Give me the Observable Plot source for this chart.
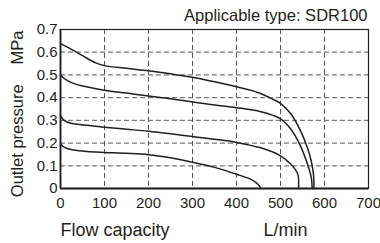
<!DOCTYPE html>
<html>
<head>
<meta charset="utf-8">
<script src="https://cdn.jsdelivr.net/npm/d3@7"></script>
<script src="https://cdn.jsdelivr.net/npm/@observablehq/plot@0.6"></script>
<style>
  html, body { margin: 0; padding: 0; background: #fff; }
  g[aria-label="chart-title"] text { letter-spacing: 1.05px; }
</style>
</head>
<body>
<div id="chart"></div>
<script>
// Axis ticks
const xTicks = [0, 100, 200, 300, 400, 500, 600, 700];
const yTicks = [0, 0.1, 0.2, 0.3, 0.4, 0.5, 0.6, 0.7];
const yTickLabels = ["0", "0.1", "0.2", "0.3", "0.4", "0.5", "0.6", "0.7"];

// Texts
const titleText = "Applicable type: SDR100";
const yLabelText = "Outlet pressure";
const yUnitText = "MPa";
const xLabelText = "Flow capacity";
const xUnitText = "L/min";

// Curve A (set 0.64 MPa)
const curveA_x = [0, 20, 50, 80, 100, 150, 200, 250, 300, 350, 400, 432, 455, 477, 500, 523, 545, 561, 570, 575, 576];
const curveA_y = [0.638, 0.618, 0.585, 0.553, 0.541, 0.529, 0.518, 0.505, 0.49, 0.47, 0.448, 0.433, 0.418, 0.398, 0.375, 0.33, 0.256, 0.18, 0.12, 0.06, 0];

// Curve B (set 0.5 MPa)
const curveB_x = [0, 10, 25, 50, 100, 150, 200, 250, 300, 350, 400, 455, 500, 523, 545, 561, 570, 572];
const curveB_y = [0.5, 0.482, 0.466, 0.451, 0.433, 0.42, 0.407, 0.395, 0.381, 0.368, 0.356, 0.338, 0.307, 0.263, 0.189, 0.109, 0.048, 0];

// Curve C (set 0.32 MPa)
const curveC_x = [0, 5, 15, 30, 60, 100, 150, 200, 250, 300, 350, 400, 455, 500, 523, 533, 539, 541, 541];
const curveC_y = [0.322, 0.306, 0.293, 0.285, 0.278, 0.27, 0.261, 0.252, 0.241, 0.229, 0.217, 0.203, 0.179, 0.144, 0.108, 0.085, 0.065, 0.045, 0];

// Curve D (set 0.2 MPa)
const curveD_x = [0, 5, 15, 30, 60, 100, 150, 200, 250, 300, 350, 400, 432, 445, 452, 455];
const curveD_y = [0.198, 0.186, 0.176, 0.169, 0.163, 0.159, 0.155, 0.149, 0.135, 0.116, 0.093, 0.063, 0.041, 0.025, 0.012, 0];

const toRows = (xs, ys) => xs.map((x, i) => ({x, y: ys[i]}));
const curves = [
  toRows(curveA_x, curveA_y),
  toRows(curveB_x, curveB_y),
  toRows(curveC_x, curveC_y),
  toRows(curveD_x, curveD_y)
];

const font = "'Liberation Sans', Arial, Helvetica, sans-serif";

const chart = Plot.plot({
  width: 380,
  height: 243,
  marginLeft: 60,
  marginRight: 12,
  marginTop: 29,
  marginBottom: 55,
  style: {fontFamily: font, color: "#231f20", background: "#fff", overflow: "visible"},
  x: {domain: [0, 700], ticks: xTicks},
  y: {domain: [0, 0.7], ticks: yTicks},
  marks: [
    Plot.gridY(yTicks.slice(1, -1), {stroke: "#7a7a7a", strokeOpacity: 1, strokeWidth: 1.3, strokeDasharray: "5,3"}),
    Plot.gridX(xTicks.slice(1, -1), {stroke: "#555", strokeOpacity: 1, strokeWidth: 1, strokeDasharray: "5,3"}),
    Plot.frame({stroke: "#231f20", strokeWidth: 1.2}),
    Plot.ruleX([0], {stroke: "#231f20", strokeWidth: 1.8}),
    Plot.ruleY([0], {stroke: "#231f20", strokeWidth: 1.8}),
    ...curves.map(rows => Plot.line(rows, {x: "x", y: "y", curve: "catmull-rom", stroke: "#231f20", strokeWidth: 1.5})),
    Plot.axisX({ticks: xTicks, tickSize: 0, tickPadding: 9, fontSize: 15, label: null, tickFormat: d => String(d)}),
    Plot.axisY({ticks: yTicks, tickSize: 0, tickPadding: 3, fontSize: 15, label: null,
      tickFormat: d => yTickLabels[yTicks.findIndex(t => Math.abs(t - d) < 1e-9)]}),
    Plot.text([titleText], {frameAnchor: "top-right", textAnchor: "end", lineAnchor: "bottom", dx: -1, dy: -8.3, fontSize: 16.5, fill: "#231f20", ariaLabel: "chart-title"}),
    Plot.text([yLabelText], {frameAnchor: "bottom-left", rotate: -90, textAnchor: "start", lineAnchor: "bottom", dx: -37.5, dy: 8.7, fontSize: 16.5, fill: "#231f20"}),
    Plot.text([yUnitText], {frameAnchor: "top-left", rotate: -90, textAnchor: "end", lineAnchor: "bottom", dx: -37.5, dy: 1, fontSize: 16.5, fill: "#231f20"}),
    Plot.text([xLabelText], {frameAnchor: "bottom-left", textAnchor: "start", lineAnchor: "bottom", dx: 0, dy: 47, fontSize: 18, fill: "#231f20"}),
    Plot.text([xUnitText], {frameAnchor: "bottom-left", textAnchor: "start", lineAnchor: "bottom", dx: 203, dy: 47, fontSize: 18, fill: "#231f20"})
  ]
});
document.getElementById("chart").appendChild(chart);
</script>
</body>
</html>
